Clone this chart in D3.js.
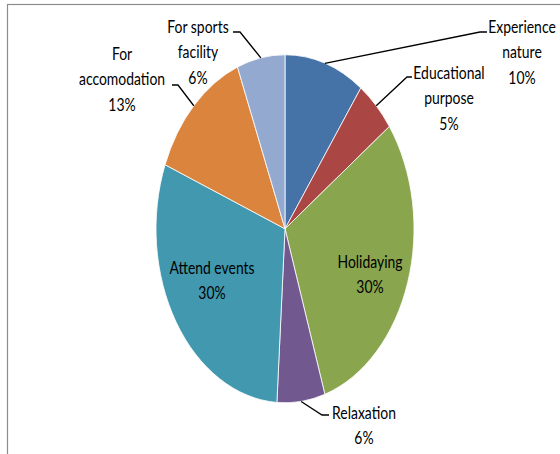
<!DOCTYPE html>
<html>
<head>
<meta charset="utf-8">
<script src="https://cdn.jsdelivr.net/npm/d3@7/dist/d3.min.js"></script>
<style>
  html, body { margin: 0; padding: 0; background: #fff; }
  svg { display: block; }
  text { font-family: Lato, "Liberation Sans Narrow", sans-serif; font-size: 17px; fill: #000; }
</style>
</head>
<body>
<script>
// ---- data ----
const categories = ["Experience nature", "Educational purpose", "Holidaying", "Relaxation", "Attend events", "For accomodation", "For sports facility"];
const values = [10, 5, 30, 6, 30, 13, 6];
const percentLabels = ["10%", "5%", "30%", "6%", "30%", "13%", "6%"];
const labelLines = [["Experience", "nature"], ["Educational", "purpose"], ["Holidaying"], ["Relaxation"], ["Attend events"], ["For", "accomodation"], ["For sports", "facility"]];
const colors = ["#4572A7", "#AA4643", "#89A54E", "#71588F", "#4198AF", "#DB843D", "#93A9CF"];

// ---- layout ----
const W = 560, H = 454;
const cx = 285, cy = 228.8, rx = 129, ry = 174;
const labelLayout = [
  { x: 522, y: 27, elbow: [480, 32], end: [487, 32] },
  { x: 449, y: 73, elbow: [407, 77], end: [412, 77] },
  { x: 370, y: 262, inside: true },
  { x: 364, y: 413, elbow: [322, 415], end: [329, 415] },
  { x: 212, y: 268, inside: true },
  { x: 122, y: 54, elbow: [178, 85], end: [172, 85] },
  { x: 198, y: 27, elbow: [240, 32], end: [233, 32] }
];
const lineH = 25.5;
const textSquash = 0.82;

const svg = d3.select("body").append("svg").attr("width", W).attr("height", H);

svg.append("rect").attr("x", 7.5).attr("y", 4.5).attr("width", 700).attr("height", 700)
  .attr("fill", "none").attr("stroke", "#8c8c8c").attr("stroke-width", 1.2);

const pie = d3.pie().sort(null).value(d => d)(values);
const arc = d3.arc().innerRadius(0).outerRadius(rx);

const g = svg.append("g").attr("transform", `translate(${cx},${cy}) scale(1,${ry / rx})`);
g.selectAll("path").data(pie).enter().append("path")
  .attr("d", arc)
  .attr("fill", (d, i) => colors[i])
  .attr("stroke", "#fff")
  .attr("stroke-width", 0.8)
  .attr("vector-effect", "non-scaling-stroke");

pie.forEach((d, i) => {
  const L = labelLayout[i];
  if (L.inside) return;
  const a = (d.startAngle + d.endAngle) / 2;
  const sx = cx + rx * Math.sin(a), sy = cy - ry * Math.cos(a);
  svg.append("polyline")
    .attr("points", `${sx},${sy} ${L.elbow[0]},${L.elbow[1]} ${L.end[0]},${L.end[1]}`)
    .attr("fill", "none").attr("stroke", "#000").attr("stroke-width", 1.3);
});

pie.forEach((d, i) => {
  const L = labelLayout[i];
  const lines = labelLines[i].concat([percentLabels[i]]);
  const t = svg.append("text").attr("text-anchor", "middle")
    .attr("transform", `translate(${L.x},0) scale(${textSquash},1)`);
  lines.forEach((s, k) => {
    t.append("tspan").attr("x", 0).attr("y", L.y + k * lineH).attr("dy", "0.35em").text(s);
  });
});
</script>
</body>
</html>
